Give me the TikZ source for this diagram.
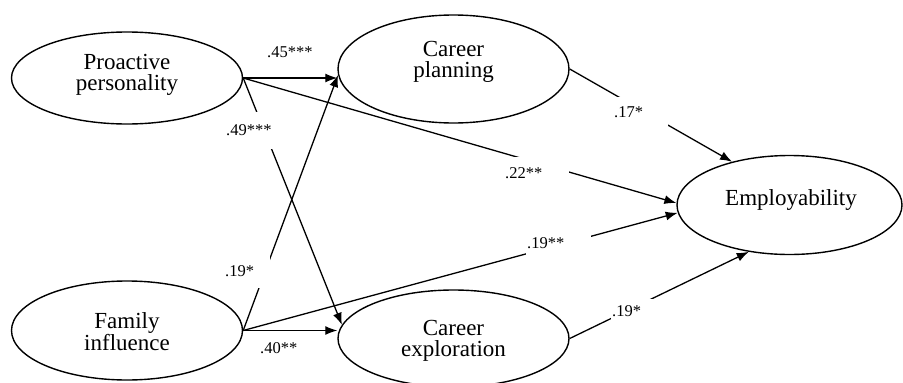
\documentclass[tikz,border=0pt]{standalone}
\usepackage{fontspec}
\setmainfont{Liberation Serif}
\usetikzlibrary{shapes.geometric,arrows.meta}
\tikzset{
  ell/.style={ellipse,draw=black,line width=1.4pt,inner sep=0pt},
  txt/.style={align=center,font=\fontsize{23}{21}\selectfont,inner sep=0pt},
  arr/.style={line width=1.3pt,-{Latex[length=12pt,width=9pt]}},
  lab/.style={font=\fontsize{16.5}{16.5}\selectfont,inner xsep=1pt,inner ysep=0pt,
              text height=11pt,text depth=0pt,anchor=west,align=left},
  gap/.style={lab,fill=white}
}
\begin{document}
\begin{tikzpicture}[x=1pt,y=-1pt]
\useasboundingbox[fill=white] (0,0) rectangle (903,383);
% ellipses
\node[ell,minimum width=231pt,minimum height=92pt] (pp) at (127,78) {};
\node[ell,minimum width=231pt,minimum height=108pt] (cp) at (453.5,69) {};
\node[ell,minimum width=231pt,minimum height=99pt] (fi) at (127,330.5) {};
\node[ell,minimum width=231pt,minimum height=97pt] (ce) at (453.5,338.5) {};
\node[ell,minimum width=225pt,minimum height=99pt] (em) at (789.5,205) {};
% texts
\node[txt] (ppt) at (127,75) {Proactive\\personality};
\node[txt] (cpt) at (453.5,62) {Career\\planning};
\node[txt] (fit) at (127,331.5) {Family\\influence};
\node[txt] (cet) at (453.5,341) {Career\\exploration};
\node[txt] (emt) at (791,199.5) {Employability};
% paths
\draw[arr] (pp.east) -- (pp.east -| cp.west);
\draw[arr] (pp.east) -- (em.179);
\draw[arr] (pp.east) -- (ce.173);
\draw[arr] (fi.east) -- (cp.183);
\draw[arr] (fi.east) -- (fi.east -| ce.west);
\draw[arr] (fi.east) -- (em.184);
\draw[arr] (cp.east) -- (em.143);
\draw[arr] (ce.east) -- (em.229);
% labels
\node[lab] (l45) at (266,52) {.45***};
\node[lab] (l40) at (259,348) {.40**};
\node[gap,text width=63pt,inner ysep=11pt] (l22) at (504,173) {.22**};
\node[gap,text width=46pt,inner ysep=13pt] (l49) at (225,130) {.49***};
\node[gap,text width=44pt,inner ysep=11pt] (l19a) at (224,271) {.19*};
\node[gap,text width=53pt,inner ysep=10pt] (l17) at (613,112) {.17*};
\node[gap,text width=41pt,inner ysep=7pt] (l19c) at (611,311) {.19*};
\node[gap,text width=63pt,inner ysep=6pt] (l19b) at (526,243) {.19**};
\end{tikzpicture}
\end{document}
